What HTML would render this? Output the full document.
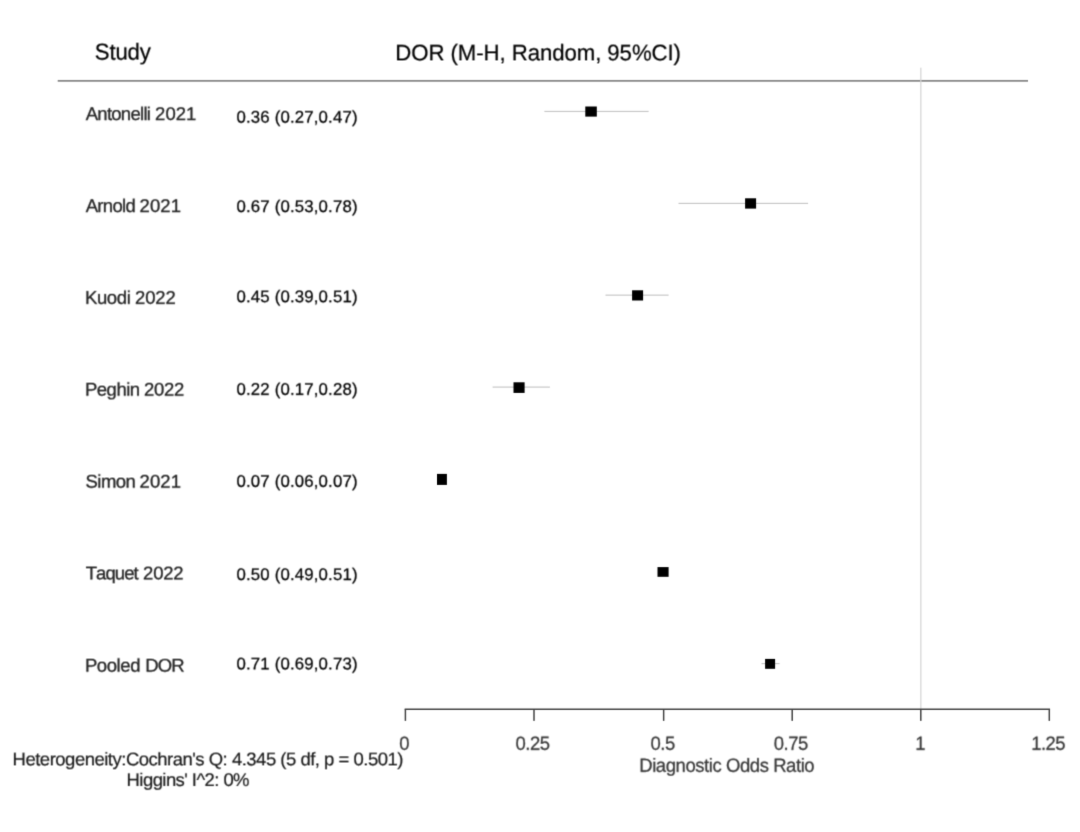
<!DOCTYPE html>
<html lang="en">
<head>
<meta charset="utf-8">
<title>Forest plot - Diagnostic Odds Ratio</title>
<style>
html,body{margin:0;padding:0;background:#fff;}
body{width:1080px;height:832px;overflow:hidden;}
svg{display:block;}
text{font-family:'Liberation Sans', sans-serif;white-space:pre;text-rendering:geometricPrecision;font-kerning:none;}
</style>
</head>
<body>
<svg width="1080" height="832" viewBox="0 0 1080 832">
<defs>
<filter id="bs" x="0" y="0" width="1080" height="832" filterUnits="userSpaceOnUse" color-interpolation-filters="sRGB"><feConvolveMatrix order="3" kernelMatrix="0.0113 0.0838 0.0113 0.0838 0.6193 0.0838 0.0113 0.0838 0.0113" divisor="1" edgeMode="none" preserveAlpha="false"/></filter>
<filter id="b0" x="0" y="0" width="1080" height="832" filterUnits="userSpaceOnUse" color-interpolation-filters="sRGB"><feConvolveMatrix order="3" kernelMatrix="0.0728 0.2673 0.0728 0.0944 0.3467 0.0944 0.0091 0.0334 0.0091" divisor="1" edgeMode="none" preserveAlpha="false"/></filter>
<filter id="b1" x="0" y="0" width="1080" height="832" filterUnits="userSpaceOnUse" color-interpolation-filters="sRGB"><feConvolveMatrix order="3" kernelMatrix="0.0499 0.1831 0.0499 0.1088 0.3996 0.1088 0.0176 0.0647 0.0176" divisor="1" edgeMode="none" preserveAlpha="false"/></filter>
<filter id="b2" x="0" y="0" width="1080" height="832" filterUnits="userSpaceOnUse" color-interpolation-filters="sRGB"><feConvolveMatrix order="3" kernelMatrix="0.0311 0.1141 0.0311 0.1141 0.4191 0.1141 0.0311 0.1141 0.0311" divisor="1" edgeMode="none" preserveAlpha="false"/></filter>
<filter id="b3" x="0" y="0" width="1080" height="832" filterUnits="userSpaceOnUse" color-interpolation-filters="sRGB"><feConvolveMatrix order="3" kernelMatrix="0.0176 0.0647 0.0176 0.1088 0.3996 0.1088 0.0499 0.1831 0.0499" divisor="1" edgeMode="none" preserveAlpha="false"/></filter>
<filter id="b4" x="0" y="0" width="1080" height="832" filterUnits="userSpaceOnUse" color-interpolation-filters="sRGB"><feConvolveMatrix order="3" kernelMatrix="0.0091 0.0334 0.0091 0.0944 0.3467 0.0944 0.0728 0.2673 0.0728" divisor="1" edgeMode="none" preserveAlpha="false"/></filter>
</defs>
<rect width="1080" height="832" fill="#fff"/>
<g class="shapes" filter="url(#bs)">
<rect x="57.7" y="79.95" width="970.30" height="1.8" fill="#888"/>
<rect x="920.25" y="67.7" width="1.2" height="641.55" fill="#d4d4d4"/>
<rect x="544.4" y="110.85" width="104.20" height="1.2" fill="#c8c8c8"/>
<rect x="678.5" y="202.80" width="129.60" height="1.2" fill="#c8c8c8"/>
<rect x="605.5" y="294.55" width="63.10" height="1.2" fill="#c8c8c8"/>
<rect x="492.6" y="386.50" width="57.30" height="1.2" fill="#c8c8c8"/>
<rect x="761.5" y="663.00" width="18.10" height="1.2" fill="#c8c8c8"/>
<rect x="585.30" y="106.50" width="11.5" height="10.1" fill="#000"/>
<rect x="745.10" y="198.30" width="11.0" height="10.3" fill="#000"/>
<rect x="632.10" y="290.30" width="11.0" height="10.2" fill="#000"/>
<rect x="513.50" y="382.30" width="11.1" height="10.6" fill="#000"/>
<rect x="437.00" y="473.90" width="9.9" height="11.0" fill="#000"/>
<rect x="657.50" y="567.10" width="11.1" height="9.7" fill="#000"/>
<rect x="765.10" y="658.90" width="10.0" height="9.9" fill="#000"/>
<rect x="404.65" y="708.50" width="645.40" height="1.5" fill="#444"/>
<rect x="404.65" y="709.25" width="1.5" height="11.6" fill="#444"/>
<rect x="533.25" y="709.25" width="1.5" height="11.6" fill="#444"/>
<rect x="662.90" y="709.25" width="1.5" height="11.6" fill="#444"/>
<rect x="791.45" y="709.25" width="1.5" height="11.6" fill="#444"/>
<rect x="920.05" y="709.25" width="1.5" height="11.6" fill="#444"/>
<rect x="1048.55" y="709.25" width="1.5" height="11.6" fill="#444"/>
</g>
<g class="labels" filter="url(#b0)">
<text class="hdr1" transform="translate(0,60) scale(1,1.035)" font-size="22.2" fill="#000" stroke="#000" stroke-width="0.2"><tspan x="94.79" letter-spacing="-0.179">Study</tspan></text>
<text class="study" transform="translate(0,396) scale(1,0.995)" font-size="18.5" fill="#242424" stroke="#242424" stroke-width="0.3"><tspan x="84.93" letter-spacing="-0.477">Peghin </tspan><tspan x="144.02" letter-spacing="-0.265">2022</tspan></text>
<text class="study" transform="translate(0,488) scale(1,0.995)" font-size="18.5" fill="#242424" stroke="#242424" stroke-width="0.3"><tspan x="85.61" letter-spacing="-0.574">Simon </tspan><tspan x="139.62" letter-spacing="0.069">2021</tspan></text>
<text class="study" transform="translate(0,672) scale(1,0.995)" font-size="18.5" fill="#242424" stroke="#242424" stroke-width="0.3"><tspan x="84.93" letter-spacing="-0.419">Pooled </tspan><tspan x="145.23" letter-spacing="-0.867">DOR</tspan></text>
<text class="num" transform="translate(0,123)" font-size="16.8" fill="#000" stroke="#000" stroke-width="0.25"><tspan x="236.47" letter-spacing="0.169">0.36 (0.27,0.47)</tspan></text>
</g>
<g class="labels" filter="url(#b1)">
<text class="study" transform="translate(0,304) scale(1,0.995)" font-size="18.5" fill="#242424" stroke="#242424" stroke-width="0.3"><tspan x="84.93" letter-spacing="-0.338">Kuodi </tspan><tspan x="135.12" letter-spacing="-0.165">2022</tspan></text>
<text class="num" transform="translate(0,395)" font-size="16.8" fill="#000" stroke="#000" stroke-width="0.25"><tspan x="236.47" letter-spacing="0.169">0.22 (0.17,0.28)</tspan></text>
<text class="num" transform="translate(0,487)" font-size="16.8" fill="#000" stroke="#000" stroke-width="0.25"><tspan x="236.47" letter-spacing="0.169">0.07 (0.06,0.07)</tspan></text>
<text class="tick" transform="translate(0,750) scale(1,1.035)" font-size="18.5" fill="#383838" stroke="#383838" stroke-width="0.25"><tspan x="399.21" letter-spacing="0.000">0</tspan></text>
<text class="tick" transform="translate(0,750) scale(1,1.035)" font-size="18.5" fill="#383838" stroke="#383838" stroke-width="0.25"><tspan x="515.50" letter-spacing="-0.486">0.25</tspan></text>
<text class="tick" transform="translate(0,750) scale(1,1.035)" font-size="18.5" fill="#383838" stroke="#383838" stroke-width="0.25"><tspan x="650.40" letter-spacing="-0.434">0.5</tspan></text>
<text class="tick" transform="translate(0,750) scale(1,1.035)" font-size="18.5" fill="#383838" stroke="#383838" stroke-width="0.25"><tspan x="773.80" letter-spacing="-0.519">0.75</tspan></text>
<text class="tick" transform="translate(0,750) scale(1,1.035)" font-size="18.5" fill="#383838" stroke="#383838" stroke-width="0.25"><tspan x="915.25" letter-spacing="0.000">1</tspan></text>
<text class="tick" transform="translate(0,750) scale(1,1.035)" font-size="18.5" fill="#383838" stroke="#383838" stroke-width="0.25"><tspan x="1031.22" letter-spacing="-0.523">1.25</tspan></text>
<text class="axt" transform="translate(0,772) scale(1,1.035)" font-size="18.5" fill="#383838" stroke="#383838" stroke-width="0.25"><tspan x="639.21" letter-spacing="-0.431">Diagnostic Odds Ratio</tspan></text>
</g>
<g class="labels" filter="url(#b2)">
<text class="study" transform="translate(0,120) scale(1,0.995)" font-size="18.5" fill="#242424" stroke="#242424" stroke-width="0.3"><tspan x="85.71" letter-spacing="-0.723">Antonelli </tspan><tspan x="155.12" letter-spacing="0.036">2021</tspan></text>
<text class="study" transform="translate(0,212) scale(1,0.995)" font-size="18.5" fill="#242424" stroke="#242424" stroke-width="0.3"><tspan x="85.71" letter-spacing="-0.690">Arnold </tspan><tspan x="139.62" letter-spacing="0.069">2021</tspan></text>
<text class="num" transform="translate(0,212)" font-size="16.8" fill="#000" stroke="#000" stroke-width="0.25"><tspan x="236.47" letter-spacing="0.169">0.67 (0.53,0.78)</tspan></text>
<text class="num" transform="translate(0,580)" font-size="16.8" fill="#000" stroke="#000" stroke-width="0.25"><tspan x="236.47" letter-spacing="0.169">0.50 (0.49,0.51)</tspan></text>
<text class="het2" transform="translate(0,786) scale(1,0.99)" font-size="18.5" fill="#1a1a1a" stroke="#1a1a1a" stroke-width="0.2"><tspan x="126.58" letter-spacing="-0.568">Higgins' I^2: 0%</tspan></text>
</g>
<g class="labels" filter="url(#b3)">
<text class="num" transform="translate(0,302)" font-size="16.8" fill="#000" stroke="#000" stroke-width="0.25"><tspan x="236.47" letter-spacing="0.169">0.45 (0.39,0.51)</tspan></text>
</g>
<g class="labels" filter="url(#b4)">
<text class="hdr2" transform="translate(0,60) scale(1,1.02)" font-size="22.2" fill="#000" stroke="#000" stroke-width="0.2"><tspan x="395.28" letter-spacing="-0.066">DOR (M-H, Random, 95%CI)</tspan></text>
<text class="study" transform="translate(0,579) scale(1,0.995)" font-size="18.5" fill="#242424" stroke="#242424" stroke-width="0.3"><tspan x="85.63" letter-spacing="-0.909">Taquet </tspan><tspan x="143.12" letter-spacing="-0.265">2022</tspan></text>
<text class="num" transform="translate(0,669)" font-size="16.8" fill="#000" stroke="#000" stroke-width="0.25"><tspan x="236.47" letter-spacing="0.169">0.71 (0.69,0.73)</tspan></text>
<text class="het1" transform="translate(0,765) scale(1,0.99)" font-size="18.5" fill="#1a1a1a" stroke="#1a1a1a" stroke-width="0.2"><tspan x="12.58" letter-spacing="-0.501">Heterogeneity:Cochran's Q: 4.345 (5 df, p = 0.501)</tspan></text>
</g>
</svg>
</body>
</html>
